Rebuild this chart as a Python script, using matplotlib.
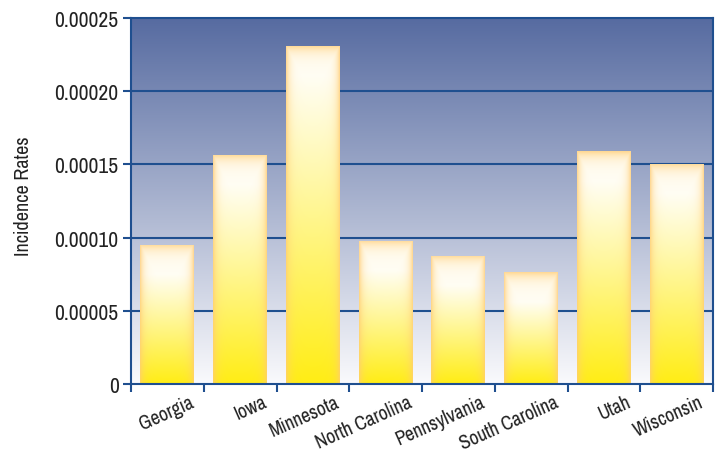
import matplotlib.pyplot as plt
import numpy as np
from matplotlib import font_manager
from matplotlib.font_manager import FontProperties
import matplotlib.transforms as mtransforms

states = ['Georgia', 'Iowa', 'Minnesota', 'North Carolina', 'Pennsylvania',
          'South Carolina', 'Utah', 'Wisconsin']
rates = [0.0000950, 0.0001565, 0.0002310, 0.0000978, 0.0000875,
         0.0000765, 0.0001590, 0.0001503]
yticks = [0, 0.00005, 0.00010, 0.00015, 0.00020, 0.00025]
ylabels = ['0', '0.00005', '0.00010', '0.00015', '0.00020', '0.00025']

# pick a condensed face if one is around
fp = None
cands = [f.fname for f in font_manager.fontManager.ttflist
         if ('Condensed' in f.fname or 'Narrow' in f.fname)
         and 'Bold' not in f.fname and 'Oblique' not in f.fname
         and 'Italic' not in f.fname and 'Light' not in f.fname]
for key in ['Narrow', 'RobotoCondensed', 'DejaVuSansCondensed', 'Condensed']:
    hits = sorted(c for c in cands if key in c)
    if hits:
        fp = hits[0]
        break
tick_font = FontProperties(fname=fp) if fp else FontProperties(family='DejaVu Sans')

axc = '#1f4f8f'
fig = plt.figure(figsize=(7.21, 4.52), dpi=100)
ax = fig.add_axes([131 / 721, 1 - 385 / 452, 582 / 721, 366 / 452])
ax.set_xlim(-0.5, 7.5)
ax.set_ylim(0, 0.00025)

# background gradient
top = np.array([0.34, 0.42, 0.63])
bot = np.array([0.98, 0.98, 0.99])
t = np.linspace(0, 1, 256)[:, None]
bg = top * (1 - t) + bot * t
ax.imshow(bg[:, None, :].repeat(2, axis=1), extent=(-0.5, 7.5, 0, 0.00025),
          aspect='auto', zorder=0, interpolation='bilinear')

for y in yticks[1:-1]:
    ax.axhline(y, color=axc, lw=1.5, zorder=1)

bars = ax.bar(range(len(states)), rates, width=0.74, align='center',
              color='none', edgecolor='none', zorder=2)

yellow = np.array([1.0, 0.93, 0.08])
cream = np.array([1.0, 0.995, 0.96])
orange = np.array([1.0, 0.80, 0.45])
for b in bars:
    x0, w, h = b.get_x(), b.get_width(), b.get_height()
    ny, nx = 200, 60
    hpx = h / 0.00025 * 366
    v = np.linspace(1, 0, ny)[:, None]
    u = np.linspace(0, 1, nx)[None, :]
    s = np.clip(v * hpx / max(hpx - 30, 1), 0, 1)[..., None]
    base = yellow * (1 - s) + cream * s
    d = np.minimum(u, 1 - u)
    we = np.exp(-d / 0.07)
    wt = np.exp(-(1 - v) * hpx / 7)
    wgt = np.clip(np.maximum(we, wt), 0, 1)[..., None] * 0.75
    img = base * (1 - wgt) + orange * wgt
    im = ax.imshow(img, extent=(x0, x0 + w, 0, h), aspect='auto',
                   zorder=2, interpolation='bilinear')
    im.set_clip_path(b)

ax.set_xlim(-0.5, 7.5)
ax.set_ylim(0, 0.00025)
ax.set_yticks(yticks)
ax.set_yticklabels(ylabels)
for lab in ax.get_yticklabels():
    lab.set_fontproperties(tick_font)
    lab.set_fontsize(15.5)
    lab.set_color('#222222')
ax.set_xticks(np.arange(-0.5, 8, 1))
ax.set_xticklabels([])
ax.tick_params(axis='x', which='major', length=6, width=1.5, color=axc)
ax.tick_params(axis='y', length=6, width=1.5, color=axc, pad=3)

shift = mtransforms.ScaledTranslation(22 / 100, -8 / 100, fig.dpi_scale_trans)
for i, name in enumerate(states):
    ax.text(i, 0, name, transform=ax.get_xaxis_transform() + shift,
            rotation=24, rotation_mode='anchor', ha='right', va='top',
            fontproperties=tick_font, fontsize=14, color='#222222')

for sp in ax.spines.values():
    sp.set_color(axc)
    sp.set_linewidth(1.5)
fig.text(24 / 721, 1 - 196 / 452, 'Incidence Rates', rotation=90,
         ha='center', va='center', fontproperties=tick_font, fontsize=14.5,
         color='#222222')

fig.savefig('out.png', dpi=100)
